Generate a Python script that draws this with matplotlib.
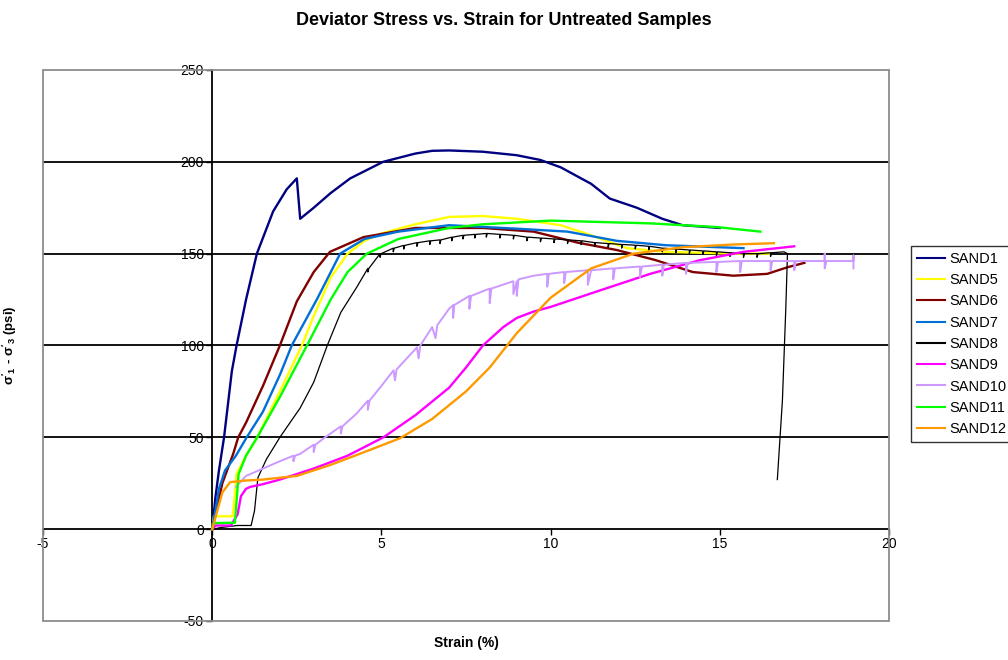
import matplotlib
matplotlib.use("Agg")
import matplotlib.pyplot as plt
from matplotlib.patches import Rectangle

plt.rcParams['font.family'] = ['Liberation Sans', 'DejaVu Sans']
plt.rcParams['axes.unicode_minus'] = False
plt.rcParams['mathtext.fontset'] = 'custom'
plt.rcParams['mathtext.rm'] = 'Liberation Sans'
plt.rcParams['mathtext.bf'] = 'Liberation Sans:bold'
plt.rcParams['mathtext.default'] = 'bf'

# strain (%), deviator stress (psi) for each untreated sample
sand1 = [(0, 0), (0.1, 18), (0.2, 32), (0.35, 50), (0.58, 86), (0.72, 100), (1.0, 125),
         (1.32, 150), (1.8, 173), (2.2, 185), (2.5, 191), (2.6, 169), (3.0, 175),
         (3.5, 183), (4.08, 191), (5.05, 200), (6.0, 204.5), (6.5, 206), (7.0, 206.2),
         (8.0, 205.5), (9.0, 203.6), (9.7, 201), (10.3, 197), (11.2, 188), (11.75, 180),
         (12.55, 175), (13.3, 169), (13.9, 165.5), (15.0, 164)]

sand5 = [(0, 0), (0.05, 7), (0.6, 7), (0.65, 15), (0.72, 30), (1.0, 40), (1.33, 50),
         (2.0, 75), (2.65, 100), (3.0, 116), (3.5, 137), (4.0, 150), (4.5, 157),
         (5.0, 161), (6.0, 166), (7.0, 170), (8.0, 170.5), (9.0, 169), (10.3, 165.5),
         (11.2, 160), (12.25, 153), (13.4, 151), (15.4, 150), (16.5, 150)]

sand6 = [(0, 0), (0.3, 25), (0.62, 41), (0.77, 50), (1.0, 58), (1.5, 78), (2.0, 100),
         (2.5, 124), (3.0, 140), (3.48, 151), (4.47, 159), (6.0, 164), (8.0, 164),
         (9.5, 162), (10.8, 156), (11.95, 152), (13.1, 146.5), (14.2, 140), (15.4, 138),
         (16.4, 139), (17.0, 142.6), (17.5, 145)]

sand7 = [(0, 0), (0.2, 22), (0.38, 32), (0.7, 40), (1.02, 50), (1.5, 64), (2.0, 84),
         (2.35, 100), (3.09, 125), (3.78, 150), (4.5, 158), (5.5, 162), (7.0, 165.5),
         (9.0, 163.6), (10.5, 162), (11.95, 157), (13.4, 154.6), (15.7, 153)]

sand8 = [(0, 0), (0.3, 1), (0.75, 2), (1.15, 2), (1.25, 10), (1.35, 28), (1.6, 38),
         (2.0, 50), (2.6, 66), (3.0, 80), (3.4, 100), (3.8, 118), (4.28, 132),
         (4.6, 142), (4.6, 140), (4.63, 142), (4.96, 150), (4.96, 148), (4.99, 150),
         (5.35, 153), (5.35, 151), (5.38, 153), (5.66, 154.5), (5.66, 152.5), (5.69, 154.5),
         (6.05, 156), (6.05, 154), (6.08, 156), (6.43, 157), (6.43, 155), (6.46, 157),
         (6.73, 157.5), (6.73, 155.5), (6.76, 157.5), (7.08, 159), (7.08, 157), (7.11, 159),
         (7.41, 160), (7.41, 158), (7.44, 160), (7.76, 160.5), (7.76, 158.5), (7.79, 160.5),
         (8.1, 161), (8.1, 159), (8.13, 161), (8.5, 160.5), (8.5, 158.5), (8.53, 160.5),
         (8.9, 160), (8.9, 158), (8.93, 160), (9.3, 159), (9.3, 157), (9.33, 159),
         (9.7, 158.5), (9.7, 156.5), (9.73, 158.5), (10.1, 158), (10.1, 156), (10.13, 158),
         (10.5, 157.5), (10.5, 155.5), (10.53, 157.5), (10.9, 157), (10.9, 155), (10.93, 157),
         (11.3, 156), (11.3, 154), (11.33, 156), (11.7, 155.5), (11.7, 153.5), (11.73, 155.5),
         (12.1, 155), (12.1, 153), (12.13, 155), (12.5, 154.6), (12.5, 152.6), (12.53, 154.6),
         (12.9, 154), (12.9, 152), (12.93, 154), (13.3, 153), (13.3, 151), (13.33, 153),
         (13.7, 152.5), (13.7, 150.5), (13.73, 152.5), (14.1, 152), (14.1, 150), (14.13, 152),
         (14.5, 151.5), (14.5, 149.5), (14.53, 151.5), (14.9, 151), (14.9, 149), (14.93, 151),
         (15.3, 150.5), (15.3, 148.5), (15.33, 150.5), (15.7, 150), (15.7, 148), (15.73, 150),
         (16.1, 150), (16.1, 148), (16.13, 150), (16.5, 150.5), (16.5, 148.5), (16.53, 150.5),
         (16.9, 151), (17.0, 150), (16.95, 120), (16.85, 70), (16.7, 27)]

sand9 = [(0, 0), (0.1, 2), (0.55, 2), (0.75, 8), (0.85, 18), (1.0, 22), (1.12, 23),
         (1.5, 24.5), (2.0, 27), (3.0, 33), (4.0, 40), (5.06, 50), (6.0, 62), (7.0, 77),
         (7.5, 88), (8.0, 100), (8.6, 110), (9.0, 115), (9.5, 118.5), (10.0, 121),
         (11.46, 130), (12.94, 139), (14.4, 146.4), (15.7, 151), (17.2, 154)]

sand10 = [(0.7, 23), (1.0, 29), (1.5, 33), (2.0, 37), (2.4, 40), (2.4, 37), (2.45, 40),
          (2.6, 41), (3.0, 46), (3.0, 42), (3.05, 46), (3.3, 49.5), (3.8, 56), (3.8, 52),
          (3.85, 56), (4.27, 63), (4.6, 70), (4.6, 65), (4.65, 70), (5.0, 78), (5.36, 86.5),
          (5.4, 81), (5.45, 87), (6.05, 99), (6.1, 93), (6.15, 100), (6.5, 110), (6.6, 104),
          (6.65, 111), (7.0, 120), (7.12, 122), (7.12, 115), (7.15, 122), (7.6, 127),
          (7.6, 120), (7.65, 127), (8.2, 131), (8.2, 123), (8.25, 131), (8.9, 135),
          (8.9, 128), (9.0, 135), (9.0, 127), (9.05, 136), (9.5, 138), (9.9, 139),
          (9.9, 132), (9.95, 139), (10.4, 140), (10.4, 134), (10.45, 140), (11.1, 141),
          (11.1, 133), (11.2, 141), (11.85, 142), (11.85, 136), (11.9, 142), (12.64, 143),
          (12.64, 137), (12.7, 143), (13.3, 144), (13.3, 138), (13.35, 144), (14.0, 145),
          (14.0, 139), (14.05, 145), (14.9, 145.5), (14.9, 140), (14.95, 145.5),
          (15.6, 146), (15.6, 140), (15.65, 146), (16.5, 146), (16.5, 141), (16.55, 146),
          (17.2, 146), (17.2, 141), (17.25, 146), (18.1, 146), (18.1, 150), (18.1, 142),
          (18.15, 146), (18.95, 146), (18.95, 149), (18.95, 142)]

sand11 = [(0, 0), (0.05, 3.3), (0.67, 3.5), (0.72, 15), (0.78, 30), (1.0, 40), (1.33, 50),
          (2.0, 72), (2.8, 100), (3.5, 125), (4.0, 140), (4.57, 150), (5.5, 158),
          (7.0, 164), (8.0, 166), (10.0, 168), (12.94, 166.5), (14.9, 164.5), (16.2, 162)]

sand12 = [(0, 0), (0.15, 10), (0.3, 20), (0.53, 25.6), (1.0, 26.5), (1.5, 27),
          (2.5, 29), (3.5, 35), (4.5, 42), (5.55, 49.5), (6.5, 60), (7.5, 75), (8.2, 88),
          (9.0, 106.7), (10.0, 126), (11.2, 142), (12.45, 150), (13.9, 153.5),
          (15.4, 155), (16.6, 155.7)]

names = ['SAND1', 'SAND5', 'SAND6', 'SAND7', 'SAND8', 'SAND9', 'SAND10', 'SAND11', 'SAND12']
series = [sand1, sand5, sand6, sand7, sand8, sand9, sand10, sand11, sand12]
colors = ['#000080', '#FFFF00', '#800000', '#0070D8', '#000000', '#FF00FF',
          '#CC99FF', '#00FF00', '#FF9900']
widths = [1.7, 1.7, 1.7, 1.7, 0.9, 1.7, 1.4, 1.7, 1.7]

fig = plt.figure(figsize=(10.08, 6.6), dpi=100)
ax = fig.add_axes([43 / 1008, 1 - 621 / 660, 846 / 1008, 551 / 660])
ax.set_xlim(-5, 20)
ax.set_ylim(-50, 250)

for v in [50, 100, 150, 200]:
    ax.axhline(v, color='black', lw=1.3, zorder=1)

for name, pts, c, lw in zip(names, series, colors, widths):
    xs = [p[0] for p in pts]
    ys = [p[1] for p in pts]
    ax.plot(xs, ys, color=c, lw=lw, label=name, zorder=3)

# axes through the origin, grey frame round the plot area
for s in ['top', 'right']:
    ax.spines[s].set_visible(False)
ax.spines['left'].set_position(('data', 0))
ax.spines['bottom'].set_position(('data', 0))
ax.spines['left'].set_linewidth(1.3)
ax.spines['bottom'].set_linewidth(1.3)
ax.add_patch(Rectangle((0, 0), 1, 1, transform=ax.transAxes, fill=False,
                       edgecolor='#8c8c8c', lw=1.3, zorder=4, clip_on=False))

ax.set_xticks([-5, 0, 5, 10, 15, 20])
ax.set_yticks([-50, 0, 50, 100, 150, 200, 250])
ax.tick_params(direction='out', length=4, width=1, pad=2, labelsize=10)

ax.set_xlabel('Strain (%)', fontsize=10, fontweight='bold', labelpad=0)
ax.xaxis.set_label_coords(0.5, -0.028)
ax.set_ylabel(r"$\sigma'_1$ - $\sigma'_3$ (psi)", fontsize=9.5, fontweight='bold')
ax.yaxis.set_label_coords(-0.028, 0.5)

fig.suptitle('Deviator Stress vs. Strain for Untreated Samples', y=0.982,
             fontsize=13, fontweight='bold')

leg = fig.legend(loc='upper left', bbox_to_anchor=(911 / 1008, 1 - 246 / 660),
                 fontsize=10.5, frameon=True, fancybox=False, handlelength=1.9,
                 handletextpad=0.3, labelspacing=0.5, borderpad=0.4, borderaxespad=0)
leg.get_frame().set_edgecolor('black')
leg.get_frame().set_linewidth(1.0)
for line in leg.get_lines():
    line.set_linewidth(1.5)

fig.savefig('out.png', dpi=100)
